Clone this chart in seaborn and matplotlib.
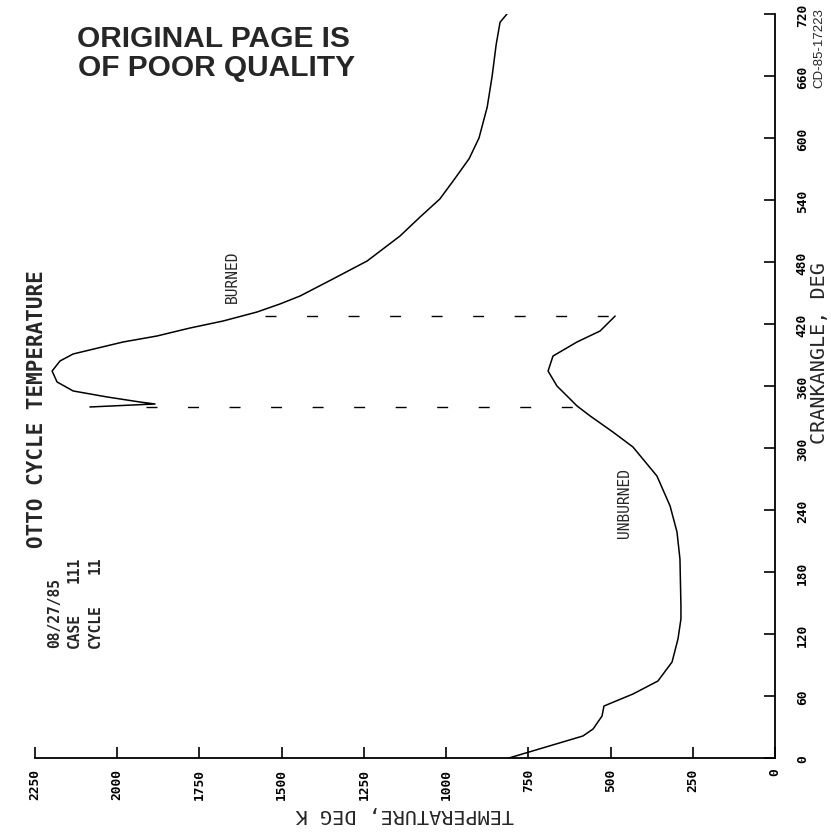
import matplotlib
matplotlib.use("Agg")
import matplotlib.pyplot as plt
from matplotlib import font_manager
import pandas as pd
import seaborn as sns

# Unburned-zone temperature (K) against crank angle (deg)
unburned_deg = [0, 21.3, 28.1, 40.6, 50.3, 61.9, 74.5, 92.9, 115.2, 134.5, 147.1,
                192.6, 218.7, 243.9, 272.9, 301.0, 315.5, 331.0, 340.7, 347.4,
                360.0, 374.5, 389.0, 402.6, 413.2, 427.7]
unburned_temp = [809, 584, 553, 526, 520, 432, 356, 313, 295, 286, 286,
                 289, 298, 319, 359, 432, 493, 562, 602, 623,
                 663, 690, 675, 602, 532, 486]

# Burned-zone temperature (K) against crank angle (deg)
burned_deg = [339.7, 342.6, 344.5, 349.4, 355.2, 363.9, 374.5, 384.2, 391.0, 394.9,
              402.6, 408.4, 416.1, 422.9, 431.6, 439.4, 447.1, 463.6, 481.0, 505.2,
              523.6, 541.0, 560.0, 580.0, 600.0, 630.0, 660.0, 690.0, 712.0, 720.0]
burned_temp = [2083, 1885, 1931, 2031, 2134, 2183, 2198, 2174, 2134, 2083,
               1982, 1879, 1779, 1678, 1575, 1505, 1444, 1344, 1240, 1140,
               1079, 1019, 975, 930, 900, 875, 860, 848, 836, 815]

# Start / end of combustion markers: crank angle, burned and unburned temperatures
marker_deg = [339.2, 427.7]
marker_temp_burned = [1912, 1551]
marker_temp_unburned = [605, 486]

temp_ticks = [0, 250, 500, 750, 1000, 1250, 1500, 1750, 2000, 2250]
crank_ticks = [0, 60, 120, 180, 240, 300, 360, 420, 480, 540, 600, 660, 720]

W, H = 831, 837


def pick_font(*names):
    avail = {f.name for f in font_manager.fontManager.ttflist}
    for n in names:
        if n in avail:
            return n
    return "DejaVu Sans"


MONO = "DejaVu Sans Mono"
NARROW = pick_font("Liberation Sans Narrow", "Liberation Sans", "DejaVu Sans")
SANS = pick_font("Liberation Sans", "DejaVu Sans")

sns.set_theme(style="white")
plt.rcParams["font.family"] = [MONO, "DejaVu Sans"]

fig = plt.figure(figsize=(W / 100, H / 100), dpi=100)
fig.patch.set_facecolor("white")
ax = fig.add_axes([35 / W, 1 - 759 / H, 740 / W, 744 / H])
ax.set_facecolor("white")

unburned = pd.DataFrame({"temp": unburned_temp, "deg": unburned_deg})
burned = pd.DataFrame({"temp": burned_temp, "deg": burned_deg})

sns.lineplot(data=unburned, x="temp", y="deg", sort=False, estimator=None,
             color="black", lw=1.1, ax=ax)
sns.lineplot(data=burned, x="temp", y="deg", sort=False, estimator=None,
             color="black", lw=1.1, ax=ax)

for d, tb, tu in zip(marker_deg, marker_temp_burned, marker_temp_unburned):
    ax.plot([tb, tu], [d, d], color="black", lw=1.0,
            linestyle=(0, (7.9, 22)), dash_capstyle="butt")

ax.set_xlim(2250, 0)
ax.set_ylim(0, 720)
ax.set_xticks(temp_ticks)
ax.set_yticks(crank_ticks)
ax.set_xticklabels([str(t) for t in temp_ticks])
ax.set_yticklabels([str(t) for t in crank_ticks])
ax.yaxis.tick_right()
ax.set_xlabel("")
ax.set_ylabel("")

for side in ("top", "left"):
    ax.spines[side].set_visible(False)
for side in ("bottom", "right"):
    ax.spines[side].set_color("black")
    ax.spines[side].set_linewidth(1.3)

ax.tick_params(axis="x", direction="in", length=8, width=1.2, pad=7,
               colors="black", bottom=True)
ax.tick_params(axis="y", direction="in", length=8, width=1.2, pad=15,
               colors="black", right=True, left=False)

for lbl in ax.get_xticklabels():
    lbl.set_rotation(90)
    lbl.set_fontfamily(MONO)
    lbl.set_fontweight("bold")
    lbl.set_fontsize(9.3)
    lbl.set_ha("center")
    lbl.set_va("top")
for lbl in ax.get_yticklabels():
    lbl.set_rotation(90)
    lbl.set_fontfamily(MONO)
    lbl.set_fontweight("bold")
    lbl.set_fontsize(9.3)
    lbl.set_ha("left")
    lbl.set_va("center")


def ftext(x, y, s, **kw):
    fig.text(x / W, 1 - y / H, s, **kw)


# Axis titles
ftext(819, 353, "CRANKANGLE, DEG", rotation=90, ha="center", va="center",
      family=MONO, fontsize=14.5)
ftext(405, 815, "TEMPERATURE, DEG K", rotation=180, ha="center", va="center",
      family=MONO, fontsize=14.5)

# Plot title and run info
ftext(37, 548, "OTTO CYCLE TEMPERATURE", rotation=90, rotation_mode="anchor",
      ha="left", va="center", family=MONO, fontsize=15, fontweight="bold")
ftext(55, 648, "08/27/85", rotation=90, rotation_mode="anchor",
      ha="left", va="center", family=MONO, fontsize=10.5, fontweight="bold")
ftext(74, 648, "CASE", rotation=90, rotation_mode="anchor",
      ha="left", va="center", family=MONO, fontsize=10.5, fontweight="bold")
ftext(95, 648, "CYCLE", rotation=90, rotation_mode="anchor",
      ha="left", va="center", family=MONO, fontsize=10.5, fontweight="bold")
ftext(74, 557, "111", rotation=90, rotation_mode="anchor",
      ha="right", va="center", family=MONO, fontsize=10.5, fontweight="bold")
ftext(95, 557, "11", rotation=90, rotation_mode="anchor",
      ha="right", va="center", family=MONO, fontsize=10.5, fontweight="bold")

# Curve labels
ftext(232, 277, "BURNED", rotation=90, ha="center", va="center",
      family=MONO, fontsize=10.5)
ftext(625, 503, "UNBURNED", rotation=90, ha="center", va="center",
      family=MONO, fontsize=10.5)

# Stamp and figure number
ftext(77, 47, "ORIGINAL PAGE IS", ha="left", va="baseline",
      family=NARROW, fontsize=21.5, fontweight="bold")
ftext(78, 76, "OF POOR QUALITY", ha="left", va="baseline",
      family=NARROW, fontsize=21.5, fontweight="bold")
ftext(819, 48, "CD-85-17223", rotation=90, ha="center", va="center",
      family=SANS, fontsize=9.5)

fig.savefig("out.png", dpi=100, facecolor="white")
